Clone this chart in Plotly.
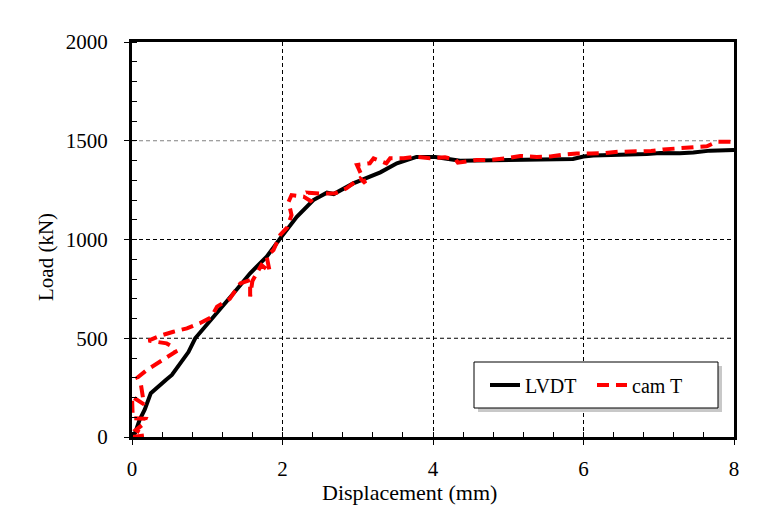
import plotly.graph_objects as go

# LVDT series (Displacement mm, Load kN)
lvdt_x = [0, 0.04, 0.1, 0.17, 0.25, 0.34, 0.45, 0.53, 0.66, 0.75, 0.84, 0.97, 1.08, 1.17,
          1.35, 1.57, 1.79, 1.97, 2.19, 2.41, 2.59, 2.68, 2.94, 3.3, 3.52, 3.78, 4.03,
          4.36, 5.07, 5.69, 5.86, 6.0, 6.13, 6.84, 7.02, 7.28, 7.46, 7.68, 8.0]
lvdt_y = [0, 20, 86, 140, 222, 255, 289, 314, 381, 430, 500, 558, 600, 643,
          728, 829, 913, 1006, 1115, 1200, 1237, 1230, 1284, 1340, 1386, 1418, 1418,
          1399, 1402, 1408, 1408, 1420, 1425, 1433, 1438, 1437, 1440, 1450, 1453]

# cam T series
cam_x = [0, 0.17, 0.05, 0.15, 0.18, 0.01, 0.0, 0.16, 0.12, 0.07, 0.2, 0.42, 0.58, 0.55,
         0.46, 0.22, 0.37, 0.55, 0.73, 0.9, 1.05, 1.13, 1.3, 1.44, 1.57, 1.57, 1.6, 1.72,
         1.83, 1.79, 1.88, 1.97, 2.06, 2.12, 2.08, 2.12, 2.28, 2.39, 2.34, 2.52, 2.7, 2.85,
         3.03, 3.1, 2.99, 3.16, 3.21, 3.38, 3.43, 3.61, 3.76, 3.96, 4.16, 4.3, 4.33, 4.58,
         4.76, 4.98, 5.16, 5.38, 5.56, 5.73, 5.91, 6.1, 6.28, 6.46, 6.71, 6.9, 7.06, 7.28,
         7.46, 7.64, 7.77, 8.0]
cam_y = [0, 8, 35, 65, 92, 95, 205, 165, 262, 300, 340, 390, 432, 455,
         474, 488, 512, 533, 550, 576, 605, 660, 700, 778, 795, 711, 790, 871,
         837, 913, 947, 1023, 1060, 1124, 1190, 1225, 1217, 1191, 1237, 1232, 1234, 1259,
         1310, 1285, 1377, 1386, 1411, 1386, 1411, 1411, 1419, 1411, 1416, 1405, 1389, 1403,
         1403, 1411, 1423, 1418, 1420, 1430, 1436, 1436, 1437, 1444, 1446, 1448, 1456, 1462,
         1464, 1472, 1495, 1495]

x_ticks = [0, 2, 4, 6, 8]
y_ticks = [0, 500, 1000, 1500, 2000]
y_grid = [500, 1000, 1500]
y_grid_colors = ["black", "black", "#808080"]

FONT = "Liberation Serif"

fig = go.Figure()
fig.add_trace(go.Scatter(x=lvdt_x, y=lvdt_y, mode="lines", name="LVDT",
                         line=dict(color="black", width=4)))
fig.add_trace(go.Scatter(x=cam_x, y=cam_y, mode="lines", name="cam T",
                         line=dict(color="#ff0000", width=4, dash="12px,7px")))

L, R, T, B = 132, 42, 42, 86
W, H = 776, 523
pw, ph = W - L - R, H - T - B

def px2x(px):
    return (px - L) / pw

def px2y(py):
    return (H - B - py) / ph

shapes = []
for yv, c in zip(y_grid, y_grid_colors):
    shapes.append(dict(type="line", xref="paper", yref="y", x0=0, x1=1, y0=yv, y1=yv,
                       line=dict(color=c, width=1, dash="4px,3px"), layer="below"))
# legend shadow and frame
shapes.append(dict(type="rect", xref="paper", yref="paper",
                   x0=px2x(478), x1=px2x(722), y0=px2y(412), y1=px2y(366),
                   fillcolor="#c8c8c8", line=dict(width=0), layer="above"))
shapes.append(dict(type="rect", xref="paper", yref="paper",
                   x0=px2x(474), x1=px2x(718), y0=px2y(408), y1=px2y(362),
                   fillcolor="white", line=dict(color="black", width=1), layer="above"))

fig.update_layout(
    width=W, height=H,
    margin=dict(l=L, r=R, t=T, b=B, autoexpand=False),
    paper_bgcolor="white", plot_bgcolor="white",
    font=dict(family=FONT, size=21, color="black"),
    showlegend=True,
    legend=dict(orientation="h", x=px2x(485), y=px2y(385), xanchor="left", yanchor="middle",
                bgcolor="rgba(0,0,0,0)", borderwidth=0,
                font=dict(family=FONT, size=20), entrywidth=62,
                tracegroupgap=0),
    shapes=shapes,
    annotations=[
        dict(text="Displacement (mm)", xref="paper", yref="paper", x=px2x(409), y=px2y(492),
             showarrow=False, font=dict(family=FONT, size=22), xanchor="center", yanchor="middle"),
        dict(text="Load (kN)", xref="paper", yref="paper", x=px2x(46), y=px2y(257),
             showarrow=False, textangle=-90, font=dict(family=FONT, size=21),
             xanchor="center", yanchor="middle"),
    ],
)

fig.update_xaxes(range=[0, 8], tickvals=x_ticks, ticktext=[str(v) for v in x_ticks],
                 showline=True, linewidth=3, linecolor="black", mirror=True,
                 ticks="outside", ticklen=5, tickwidth=1, tickcolor="black",
                 showgrid=True, gridcolor="black", gridwidth=1, griddash="4px,3px",
                 zeroline=False, ticklabelstandoff=6, tickfont=dict(size=21),
                 minor=dict(ticks="inside", ticklen=5, dtick=0.4, tickcolor="black",
                            showgrid=False))
fig.update_yaxes(range=[0, 2000], tickvals=y_ticks, ticktext=[str(v) for v in y_ticks],
                 showline=True, linewidth=3, linecolor="black", mirror=True,
                 ticks="outside", ticklen=5, tickwidth=1, tickcolor="black",
                 showgrid=False, zeroline=False, ticklabelstandoff=12, tickfont=dict(size=21),
                 minor=dict(ticks="inside", ticklen=5, dtick=100, tickcolor="black",
                            showgrid=False))

fig.write_html("out.html")
